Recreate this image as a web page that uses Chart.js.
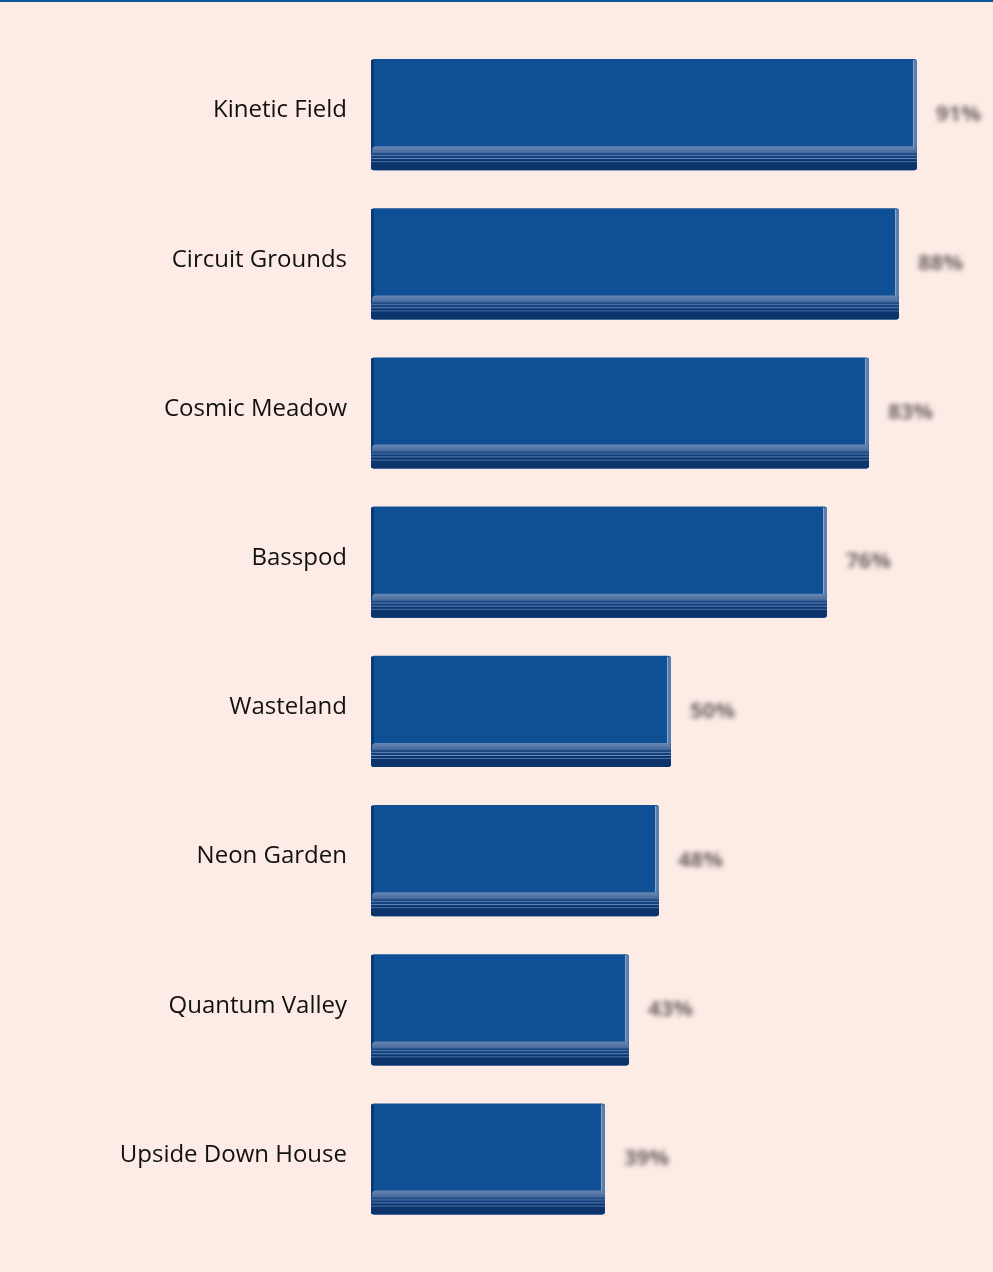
<!DOCTYPE html>
<html>
<head>
<meta charset="utf-8">
<script src="https://cdn.jsdelivr.net/npm/chart.js@4"></script>
<style>
  html, body { margin: 0; padding: 0; background: #fdece6; }
  #topline { position: absolute; left: 0; top: 0; width: 993px; height: 2px; background: #0b57a0; }
  #wrap { width: 993px; height: 1272px; }
</style>
</head>
<body>
<div id="topline"></div>
<div id="wrap"><canvas id="stages"></canvas></div>
<script>
const stages = ["Kinetic Field", "Circuit Grounds", "Cosmic Meadow", "Basspod",
                "Wasteland", "Neon Garden", "Quantum Valley", "Upside Down House"]
const shares = [91, 88, 83, 76, 50, 48, 43, 39]

// bevelled look: dark left edge, light right edge, striped base at the bottom
const bevelBars = {
    id: "bevelBars",
    afterDatasetsDraw(chart) {
        const ctx = chart.ctx
        const meta = chart.getDatasetMeta(0)
        ctx.save()
        meta.data.forEach(bar => {
            const left = bar.base, right = bar.x
            const top = bar.y - bar.height / 2, bottom = bar.y + bar.height / 2
            const h = bar.height
            ctx.fillStyle = "#0a3a74"
            ctx.fillRect(left, top + 1, 3, h - 2)
            ctx.fillStyle = "#5a7db0"
            ctx.fillRect(right - 4, top + 1, 4, h - 24)
            ctx.fillStyle = "#8ba6cb"
            ctx.fillRect(right - 4, top + 1, 1, h - 24)
            // base
            const b0 = bottom - 24
            const g = ctx.createLinearGradient(0, b0, 0, b0 + 7)
            g.addColorStop(0, "#6a88b3")
            g.addColorStop(1, "#44679a")
            ctx.fillStyle = g
            ctx.beginPath()
            ctx.roundRect(left + 1, b0, right - left - 1, 9, [4, 4, 0, 0])
            ctx.fill()
            ctx.fillStyle = "#1e4a85"
            ctx.fillRect(left, b0 + 7, right - left, 2)
            ctx.fillStyle = "#5c7eae"
            ctx.fillRect(left, b0 + 9, right - left, 1)
            ctx.fillStyle = "#143f7a"
            ctx.fillRect(left, b0 + 10, right - left, 2)
            ctx.fillStyle = "#6d8cb8"
            ctx.fillRect(left, b0 + 12, right - left, 1)
            ctx.fillStyle = "#0b336c"
            ctx.beginPath()
            ctx.roundRect(left, b0 + 13, right - left, 11, [0, 0, 3, 3])
            ctx.fill()
            ctx.fillStyle = "#4f72a4"
            ctx.fillRect(left, b0 + 15, right - left, 1)
        })
        // value labels, softened
        ctx.filter = "blur(2.5px)"
        ctx.fillStyle = "#6e6464"
        ctx.font = "bold 22px 'Open Sans'"
        ctx.textBaseline = "middle"
        meta.data.forEach((bar, i) => {
            ctx.fillText(shares[i] + "%", bar.x + 19, bar.y)
        })
        ctx.restore()
    }
}

new Chart(document.getElementById("stages"), {
    type: "bar",
    data: {
        labels: stages,
        datasets: [{
            data: shares,
            backgroundColor: "#0f4f96",
            borderRadius: 3,
            borderSkipped: false,
            barPercentage: 0.745,
            categoryPercentage: 1.0
        }]
    },
    options: {
        indexAxis: "y",
        responsive: true,
        maintainAspectRatio: false,
        animation: false,
        layout: { padding: { top: 40, bottom: 31, right: 22 } },
        plugins: { legend: { display: false }, tooltip: { enabled: false } },
        scales: {
            x: { display: false, min: 0, max: 100 },
            y: {
                afterFit: scale => { scale.width = 371 },
                border: { display: false },
                grid: { display: false, drawTicks: false },
                ticks: {
                    padding: 24,
                    labelOffset: -4,
                    color: "#111111",
                    font: { family: "'Open Sans'", size: 24 }
                }
            }
        }
    },
    plugins: [bevelBars]
})
</script>
</body>
</html>
